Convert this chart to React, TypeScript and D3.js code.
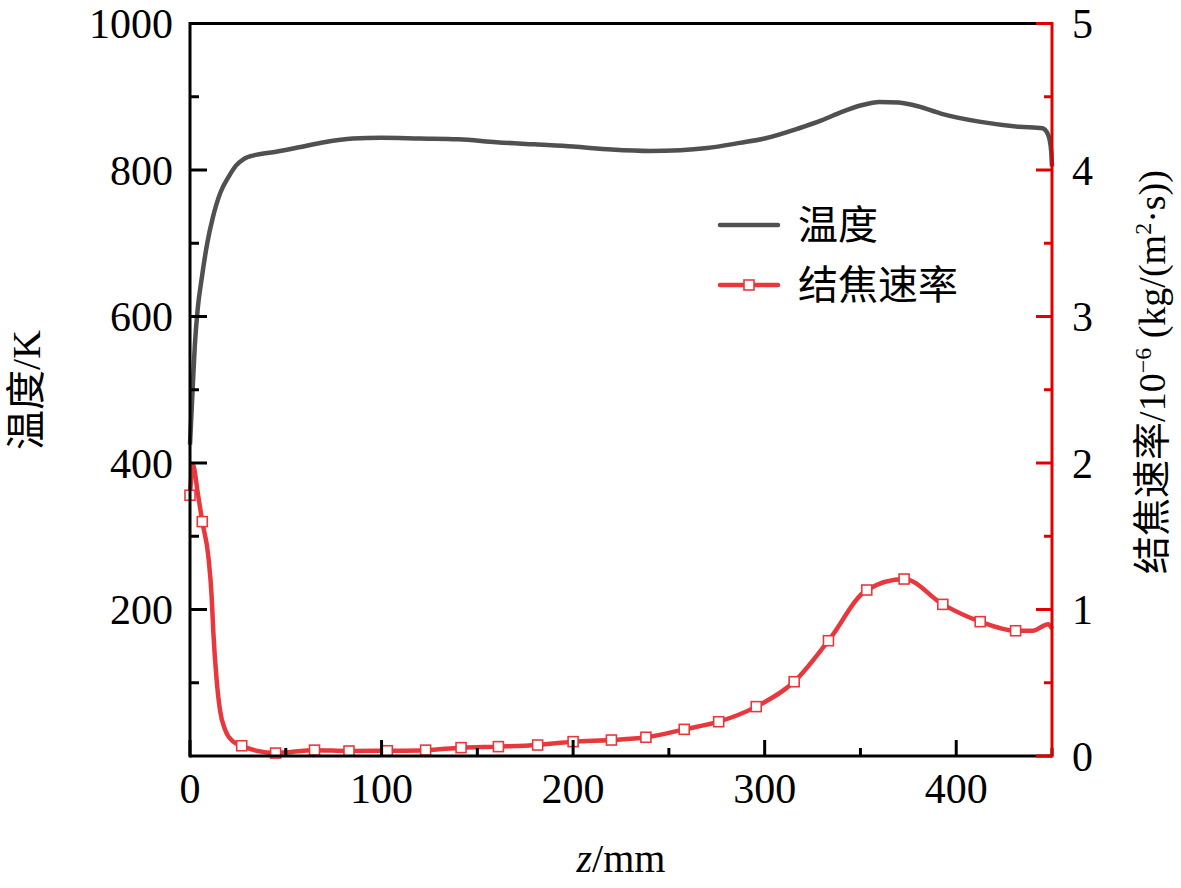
import React from 'react';
import * as d3 from 'd3';

// temperature along the tube (z in mm, T in K)
const tempZ = [0, 1, 2.5, 4, 6, 9, 12, 16, 20, 24, 28, 35, 45, 57, 70, 85, 100, 120, 140, 160, 180, 200, 220, 240, 256, 270, 287, 300, 318, 330, 340, 350, 360, 370, 380, 392, 412, 433, 445, 448, 449.5, 450];
const tempVal = [425, 480, 560, 610, 650, 700, 736, 770, 790, 806, 815, 821, 825, 831, 838, 843, 844, 843, 842, 838, 835, 832, 828, 826, 827, 830, 837, 843, 857, 868, 879, 888, 893, 892, 887, 877, 866, 859, 857, 848, 828, 805];

// coking rate (10^-6 kg/(m2 s))
const rateZ = [0, 1.5, 4, 6.4, 9.6, 11.3, 12.2, 13.9, 15.7, 18.3, 22.6, 27, 35, 44.7, 65, 83, 103, 123, 141.5, 161, 181.5, 200, 220, 238, 258, 276, 295.6, 315.4, 333.3, 353.3, 372.8, 393, 412.5, 431, 440, 448, 450];
const rateVal = [1.78, 1.99, 1.8, 1.6, 1.36, 1.09, 0.84, 0.52, 0.31, 0.18, 0.098, 0.07, 0.035, 0.02, 0.04, 0.034, 0.036, 0.04, 0.057, 0.064, 0.075, 0.098, 0.109, 0.128, 0.182, 0.234, 0.337, 0.507, 0.787, 1.133, 1.208, 1.035, 0.917, 0.855, 0.855, 0.9, 0.87];

// which points of the rate series carry a square marker
const markerZ = [0, 6.4, 27, 44.7, 65, 83, 103, 123, 141.5, 161, 181.5, 200, 220, 238, 258, 276, 295.6, 315.4, 333.3, 353.3, 372.8, 393, 412.5, 431];

const xTicks = [0, 100, 200, 300, 400];
const leftTicks = [200, 400, 600, 800, 1000];
const rightTicks = [0, 1, 2, 3, 4, 5];

const W = 1181;
const H = 888;
const margin = { top: 23.5, right: 129, bottom: 132, left: 190 };

const serif = '"Liberation Serif", "Times New Roman", "Noto Sans CJK SC", serif';
const GREY = '#505050';
const RED = '#e8383d';
const AXIS_RED = '#e00000';

const App: React.FC = () => {
    const x0 = margin.left;
    const x1 = W - margin.right;
    const y0 = H - margin.bottom;
    const y1 = margin.top;

    const xScale = d3.scaleLinear().domain([0, 450]).range([x0, x1]);
    const yLeft = d3.scaleLinear().domain([0, 1000]).range([y0, y1]);
    const yRight = d3.scaleLinear().domain([0, 5]).range([y0, y1]);

    const tempPts = tempZ.map((z, i) => [z, tempVal[i]] as [number, number]);
    const ratePts = rateZ.map((z, i) => [z, rateVal[i]] as [number, number]);

    const tempLine = d3.line<[number, number]>()
        .x(d => xScale(d[0]))
        .y(d => yLeft(d[1]))
        .curve(d3.curveMonotoneX);

    const rateLine = d3.line<[number, number]>()
        .x(d => xScale(d[0]))
        .y(d => yRight(d[1]))
        .curve(d3.curveMonotoneX);

    const markers = markerZ.map(z => {
        const i = rateZ.indexOf(z);
        return [z, rateVal[i]] as [number, number];
    });

    const xMinor = d3.range(50, 451, 100);
    const leftMinor = d3.range(100, 1000, 200);
    const rightMinor = d3.range(0.5, 5, 1);

    const ms = 10;

    return (
        <svg width={W} height={H} style={{ position: 'absolute', left: 0, top: 0, background: '#fff' }}>
            {/* curves */}
            <path d={tempLine(tempPts) ?? ''} fill="none" stroke={GREY} strokeWidth={4.5} strokeLinejoin="round" />
            <path d={rateLine(ratePts) ?? ''} fill="none" stroke={RED} strokeWidth={4.5} strokeLinejoin="round" />
            {markers.map((d, i) => (
                <rect key={i} x={xScale(d[0]) - ms / 2} y={yRight(d[1]) - ms / 2} width={ms} height={ms}
                    fill="#fff" stroke={RED} strokeWidth={1.6} />
            ))}

            {/* frame */}
            <line x1={x0} x2={x1} y1={y1} y2={y1} stroke="#000" strokeWidth={3} />
            <line x1={x0} x2={x1} y1={y0} y2={y0} stroke="#000" strokeWidth={3} />
            <line x1={x0} x2={x0} y1={y1 - 1.5} y2={y0 + 1.5} stroke="#000" strokeWidth={3} />

            {/* bottom axis */}
            {xTicks.map(t => (
                <g key={'x' + t}>
                    <line x1={xScale(t)} x2={xScale(t)} y1={y0} y2={y0 - 16} stroke="#000" strokeWidth={3} />
                    <text x={xScale(t)} y={y0 + 47} textAnchor="middle" fontFamily={serif} fontSize={42}>{t}</text>
                </g>
            ))}
            {xMinor.map(t => (
                <line key={'xm' + t} x1={xScale(t)} x2={xScale(t)} y1={y0} y2={y0 - 8} stroke="#000" strokeWidth={3} />
            ))}

            {/* left axis */}
            {leftTicks.map(t => (
                <g key={'l' + t}>
                    <line x1={x0} x2={x0 + 17} y1={yLeft(t)} y2={yLeft(t)} stroke="#000" strokeWidth={3} />
                    <text x={x0 - 17} y={yLeft(t)} dy="0.35em" textAnchor="end" fontFamily={serif} fontSize={42}>{t}</text>
                </g>
            ))}
            {leftMinor.map(t => (
                <line key={'lm' + t} x1={x0} x2={x0 + 9} y1={yLeft(t)} y2={yLeft(t)} stroke="#000" strokeWidth={3} />
            ))}

            {/* right axis */}
            <line x1={x1} x2={x1} y1={y1 - 1.5} y2={y0 + 1.5} stroke={AXIS_RED} strokeWidth={3} />
            {rightTicks.map(t => (
                <g key={'r' + t}>
                    <line x1={x1} x2={x1 - 16} y1={yRight(t)} y2={yRight(t)} stroke={AXIS_RED} strokeWidth={3} />
                    <text x={x1 + 20} y={yRight(t)} dy="0.35em" textAnchor="start" fontFamily={serif} fontSize={42}>{t}</text>
                </g>
            ))}
            {rightMinor.map(t => (
                <line key={'rm' + t} x1={x1} x2={x1 - 8} y1={yRight(t)} y2={yRight(t)} stroke={AXIS_RED} strokeWidth={3} />
            ))}

            {/* axis titles */}
            <text x={(x0 + x1) / 2} y={872} textAnchor="middle" fontFamily={serif} fontSize={40}>
                <tspan style={{ fontStyle: 'italic' }}>z</tspan>/mm
            </text>
            <text transform={`translate(40, 390) rotate(-90)`} textAnchor="middle" fontFamily={serif} fontSize={40}>
                温度/K
            </text>
            <text transform={`translate(1165, 372) rotate(-90)`} textAnchor="middle" fontFamily={serif} fontSize={38}>
                结焦速率/10<tspan dy={-14} fontSize={24}>−6</tspan><tspan dy={14}> (kg/(m</tspan><tspan dy={-14} fontSize={24}>2</tspan><tspan dy={14}>·s))</tspan>
            </text>

            {/* legend */}
            <g fontFamily={serif} fontSize={40}>
                <line x1={720} x2={778} y1={225} y2={225} stroke={GREY} strokeWidth={4.5} strokeLinecap="round" />
                <text x={798} y={225} dy="0.35em">温度</text>
                <line x1={720} x2={778} y1={285} y2={285} stroke={RED} strokeWidth={4.5} strokeLinecap="round" />
                <rect x={749 - ms / 2} y={285 - ms / 2} width={ms} height={ms} fill="#fff" stroke={RED} strokeWidth={1.6} />
                <text x={798} y={285} dy="0.35em">结焦速率</text>
            </g>
        </svg>
    );
};

export default App;
